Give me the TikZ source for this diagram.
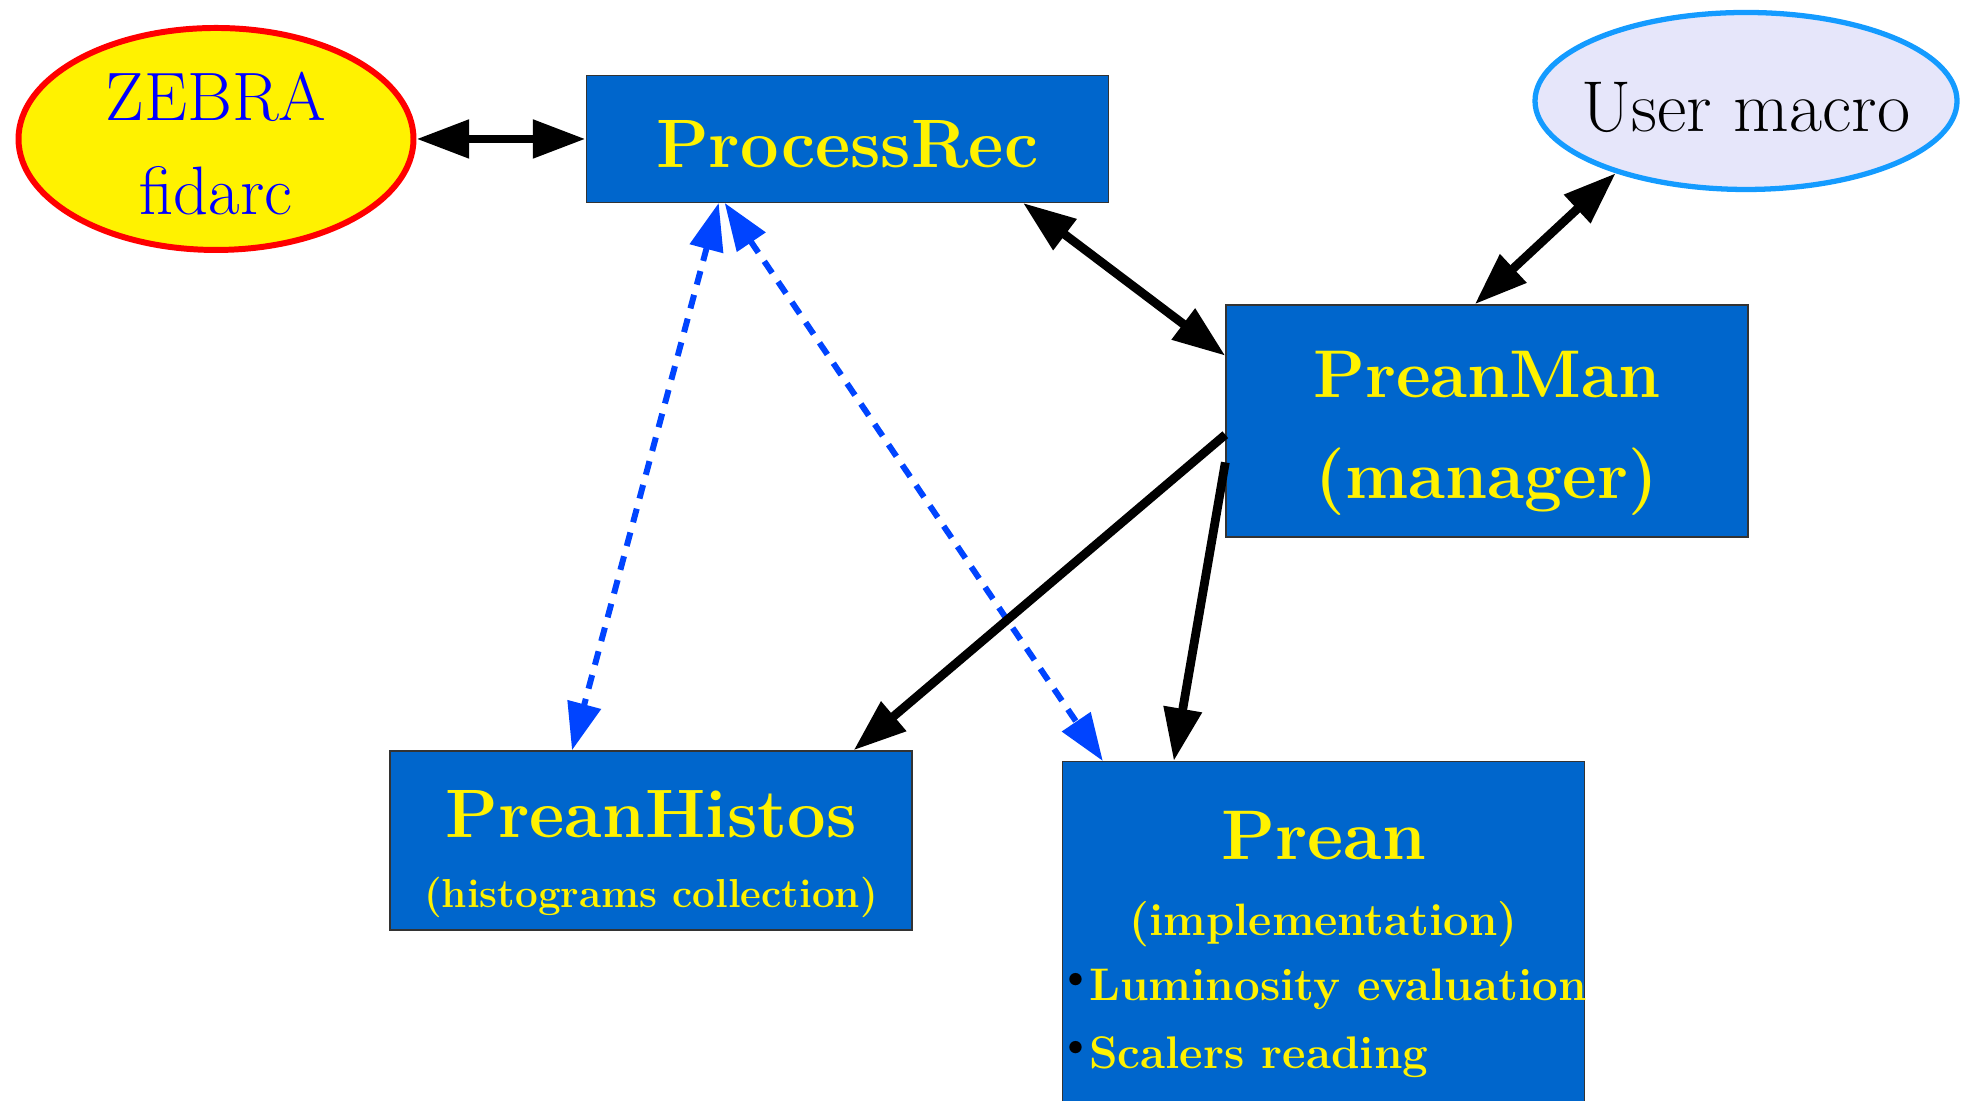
\documentclass[tikz,border=0pt]{standalone}
\usetikzlibrary{positioning,shapes.geometric,arrows.meta}
\definecolor{boxblue}{RGB}{0,102,204}
\definecolor{linkblue}{RGB}{0,68,255}
\definecolor{lavender}{RGB}{230,230,250}
\definecolor{skyline}{RGB}{20,155,255}

\begin{document}
\begin{tikzpicture}
      \tikzstyle{module}=[rectangle, draw=black!80, line width=0.4pt, fill=boxblue, text=yellow, minimum width=5.22cm, align=center, inner sep=0pt]
      \tikzstyle{zebrafile}=[ellipse, draw=red, line width=1.7pt, fill=yellow, text=blue, minimum width=3.95cm, minimum height=2.22cm, align=center, inner sep=0pt]
      \tikzstyle{usernode}=[ellipse, draw=skyline, line width=1.5pt, fill=lavender, minimum width=4.22cm, minimum height=1.77cm, inner sep=0pt]
      \tikzstyle{connect}=[->, >={Triangle[length=15pt,width=10.5pt]}, line width=2.5pt]
      \tikzstyle{both}=[<->, >={Triangle[length=15pt,width=10.5pt]}, line width=2.5pt]
      \tikzstyle{dataflow}=[<->, >={Triangle[length=13.5pt,width=9.5pt]}, line width=1.7pt, dash pattern=on 4pt off 3pt, color=linkblue]

      \useasboundingbox (0,0) rectangle (19.67,11.01);

      % files and user side
      \node[zebrafile, font=\fontsize{19.5}{26.7}\selectfont] (zebra) at (2.16,9.62) {\rule{0pt}{16.5pt}ZEBRA\\fidarc};
      \node[module, minimum height=1.265cm, font=\fontsize{19.5}{23}\selectfont\bfseries] (processrec) [right=1.69cm of zebra] {\rule{0pt}{16.2pt}ProcessRec};
      \node[usernode, font=\fontsize{20.5}{24}\selectfont] (usermacro) at (17.46,10.0) {\makebox[0pt]{\rule{0pt}{17.5pt}User macro}};

      % prean classes
      \node[module, minimum height=2.32cm, font=\fontsize{19.2}{28.7}\selectfont\bfseries] (preanman) at (14.87,6.80) {\rule{0pt}{20.3pt}PreanMan\\(manager)};
      \node[module, minimum height=1.79cm, font=\fontsize{19.5}{23}\selectfont\bfseries] (preanhistos) at (6.51,2.605) {\rule{0pt}{21.2pt}PreanHistos\\[-3.1pt]{\fontsize{11.5}{14}\selectfont(histograms collection)}};
      \node[module, minimum height=4cm, anchor=north] (prean) at (13.235,3.40) {};
      \node[text=yellow, align=center, inner sep=0pt, font=\fontsize{20}{24}\selectfont\bfseries] (preantitle) at ([yshift=-1.18cm]prean.north) {Prean\\[-2.6pt]{\fontsize{12.9}{15}\selectfont(implementation)}};
      \node[text=yellow, align=left, inner sep=0pt, anchor=north west, font=\fontsize{13}{19.3}\selectfont\bfseries] (preanitems) at ([xshift=-0.05cm,yshift=-2.07cm]prean.north west) {\raisebox{3pt}{\color{black}\fontsize{12}{12}\selectfont\textbullet}\kern-1.5pt Luminosity evaluation\\\raisebox{3pt}{\color{black}\fontsize{12}{12}\selectfont\textbullet}\kern-1.5pt Scalers reading};

      \path ([xshift=-1.285cm]processrec.south) edge [dataflow] ([xshift=-0.79cm]preanhistos.north)
        ([xshift=-1.225cm]processrec.south) edge [dataflow] ([xshift=0.41cm]prean.north west);

      \path (zebra) edge [both] (processrec)
        (processrec.-20.5) edge [both] (preanman.166.8)
        (usermacro.209.1) edge [both] (preanman.96.9);

      \path (preanman.183.5) edge [connect] (preanhistos.24.7)
        (preanman.189.4) edge [connect] ([xshift=1.12cm]prean.north west);

\end{tikzpicture}
\end{document}
